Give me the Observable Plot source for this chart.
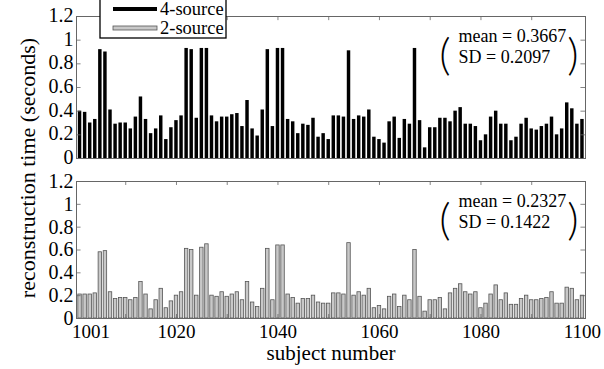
<!DOCTYPE html>
<html><head><meta charset="utf-8">
<script src="https://cdn.jsdelivr.net/npm/d3@7"></script>
<script src="https://cdn.jsdelivr.net/npm/@observablehq/plot@0.6"></script>
<style>
body{margin:0;background:#fff;}
#chart{position:relative;width:604px;height:369px;overflow:hidden;background:#fff;font-family:"Liberation Serif","Times New Roman",Times,serif;}
#chart .p{position:absolute;left:0;}
#ylab{position:absolute;left:28px;top:168px;transform:translate(-50%,-50%) rotate(-90deg);font-size:22px;line-height:22px;white-space:nowrap;color:#000;}
</style></head><body><div id="chart"></div>
<script>
// subject numbers (categories)
const subjects = d3.range(1001, 1101);
// reconstruction time, 4-source (seconds)
const fourSource = [
  0.40,0.39,0.30,0.33,0.92,0.90,0.41,0.29,0.30,0.30,
  0.25,0.35,0.52,0.33,0.21,0.25,0.36,0.16,0.26,0.32,
  0.36,0.93,0.92,0.34,0.93,0.93,0.36,0.31,0.35,0.35,
  0.37,0.38,0.27,0.49,0.25,0.19,0.41,0.92,0.27,0.93,
  0.93,0.33,0.31,0.21,0.29,0.28,0.34,0.18,0.21,0.16,
  0.36,0.36,0.35,0.91,0.33,0.36,0.35,0.41,0.18,0.16,
  0.13,0.31,0.35,0.17,0.33,0.29,0.93,0.32,0.09,0.26,
  0.26,0.34,0.34,0.31,0.40,0.43,0.29,0.29,0.27,0.15,
  0.20,0.35,0.40,0.29,0.29,0.15,0.18,0.29,0.34,0.25,
  0.24,0.27,0.29,0.35,0.20,0.25,0.47,0.42,0.29,0.33
];
// reconstruction time, 2-source (seconds)
const twoSource = [
  0.21,0.21,0.21,0.22,0.58,0.59,0.23,0.17,0.18,0.18,
  0.16,0.18,0.32,0.21,0.08,0.16,0.26,0.09,0.15,0.20,
  0.23,0.61,0.60,0.20,0.62,0.65,0.20,0.19,0.23,0.19,
  0.21,0.23,0.16,0.32,0.14,0.10,0.26,0.61,0.16,0.64,
  0.64,0.21,0.18,0.13,0.17,0.17,0.20,0.14,0.13,0.13,
  0.22,0.22,0.21,0.66,0.20,0.23,0.20,0.26,0.09,0.11,
  0.08,0.19,0.21,0.10,0.20,0.16,0.60,0.19,0.06,0.16,
  0.16,0.18,0.08,0.22,0.26,0.30,0.23,0.21,0.23,0.09,
  0.13,0.21,0.29,0.16,0.22,0.12,0.12,0.17,0.20,0.16,
  0.16,0.17,0.18,0.23,0.13,0.13,0.27,0.26,0.16,0.20
];
const xTickLabels = [1001, 1020, 1040, 1060, 1080, 1100];
const xMinorTicks = [1010, 1020, 1030, 1040, 1050, 1060, 1070, 1080, 1090];
const yTicks = [0, 0.2, 0.4, 0.6, 0.8, 1, 1.2];
const seriesNames = ["4-source", "2-source"];
const means = ["0.3667", "0.2327"];
const sds = ["0.2097", "0.1422"];

const FONT = "'Liberation Serif','Times New Roman',Times,serif";
const PAREN_FONT = "Lato,'Liberation Serif',serif";
const X0 = 1000.3, X1 = 1100.6, YMAX = 1.2;
const chart = document.getElementById("chart");

function panel(values, opt) {
  const data = subjects.map((s, i) => ({s, v: values[i]}));
  const inner = yTicks.filter(t => t > 0 && t < YMAX);
  const marks = [
    Plot.rectY(data, {x1: d => d.s - 0.34, x2: d => d.s + 0.34, y: "v",
      fill: opt.fill, stroke: opt.stroke, strokeWidth: opt.strokeWidth}),
    Plot.ruleY(inner, {x1: X0, x2: X0 + 0.9, stroke: "#666", strokeWidth: 0.8}),
    Plot.ruleY(inner, {x1: X1 - 0.9, x2: X1, stroke: "#666", strokeWidth: 0.8}),
    Plot.ruleX(xMinorTicks, {y1: YMAX - 0.035, y2: YMAX, stroke: "#666", strokeWidth: 0.8}),
    Plot.frame({stroke: "#666", strokeWidth: 1}),
    Plot.axisY({ticks: yTicks, tickSize: 0, tickPadding: 3, fontSize: 20, dy: opt.yLabelDy,
      tickFormat: d => String(d), label: null}),
    Plot.text([`mean = ${opt.mean}`], {frameAnchor: "top-right", dx: -127, dy: 13, textAnchor: "start", fontSize: 18}),
    Plot.text([`SD = ${opt.sd}`], {frameAnchor: "top-right", dx: -127, dy: 34, textAnchor: "start", fontSize: 18}),
    Plot.text(["("], {frameAnchor: "top-right", dx: -135, dy: 22, fontSize: 44, fontFamily: PAREN_FONT, fontWeight: 300}),
    Plot.text([")"], {frameAnchor: "top-right", dx: -7, dy: 22, fontSize: 44, fontFamily: PAREN_FONT, fontWeight: 300})
  ];
  if (opt.showX) {
    marks.push(Plot.ruleX(xMinorTicks, {y1: 0, y2: 0.035, stroke: "#666", strokeWidth: 0.8}));
    marks.push(Plot.text(xTickLabels.slice(0, 1), {x: d => d, y: 0, dx: 11, dy: 13.5, fontSize: 19, text: d => String(d)}));
    marks.push(Plot.text(xTickLabels.slice(1), {x: d => d, y: 0, dy: 13.5, fontSize: 19, text: d => String(d)}));
    marks.push(Plot.text(["subject number"], {frameAnchor: "bottom", dy: 41, fontSize: 21}));
  }
  const svg = Plot.plot({
    width: 604, height: opt.height,
    marginLeft: 76, marginRight: 19, marginTop: opt.marginTop, marginBottom: opt.marginBottom,
    x: {type: "linear", domain: [X0, X1], axis: null},
    y: {domain: [0, YMAX], axis: null},
    style: {fontFamily: FONT, background: "transparent", color: "#000", overflow: "visible"},
    marks
  });
  svg.classList.add("p");
  svg.style.top = opt.top + "px";
  return svg;
}

chart.appendChild(panel(fourSource, {top: 0, height: 165, marginTop: 16, marginBottom: 7, yLabelDy: -1,
  fill: "#000", stroke: "none", strokeWidth: 0, mean: means[0], sd: sds[0]}));
chart.appendChild(panel(twoSource, {top: 165, height: 204, marginTop: 16, marginBottom: 51, yLabelDy: 0,
  fill: "#c8c8c8", stroke: "#555", strokeWidth: 0.8, mean: means[1], sd: sds[1], showX: true}));

// y-axis title
const yl = document.createElement("div");
yl.id = "ylab";
yl.textContent = "reconstruction time (seconds)";
chart.appendChild(yl);

// legend
const lg = d3.create("svg").attr("width", 240).attr("height", 42)
  .attr("style", "position:absolute;left:0;top:0;font-family:" + FONT);
lg.append("rect").attr("x", 100).attr("y", -2).attr("width", 126).attr("height", 40)
  .attr("fill", "#fff").attr("stroke", "#000").attr("stroke-width", 1.3);
lg.append("line").attr("x1", 113).attr("x2", 157).attr("y1", 9).attr("y2", 9)
  .attr("stroke", "#000").attr("stroke-width", 4);
lg.append("rect").attr("x", 113).attr("y", 26).attr("width", 44).attr("height", 4)
  .attr("fill", "#c8c8c8").attr("stroke", "#555").attr("stroke-width", 0.8);
lg.selectAll("text").data(seriesNames).join("text")
  .attr("x", 160).attr("y", (d, i) => 9 + i * 19).attr("dy", "0.33em")
  .attr("font-size", 18.5).text(d => d);
chart.appendChild(lg.node());
</script></body></html>
